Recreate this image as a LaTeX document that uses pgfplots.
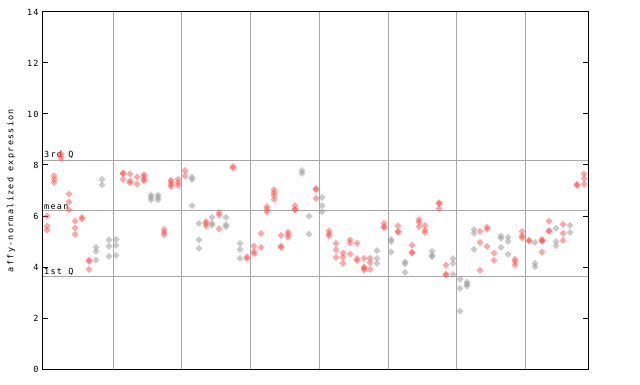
\documentclass[border=0pt]{standalone}
\usepackage{pgfplots}
\pgfplotsset{compat=1.18}
\usepackage{fontspec}
\newfontfamily\pix{DejaVu Sans Mono}[LetterSpace=15]
\definecolor{ptred}{RGB}{255,80,80}
\definecolor{ptgray}{RGB}{150,150,150}
\definecolor{gridgray}{RGB}{168,168,168}
\begin{document}
\begin{tikzpicture}[x=1bp,y=1bp]
\path[use as bounding box] (-43,-15) rectangle (597,369);
\begin{axis}[
  at={(0,0)}, anchor=south west,
  scale only axis, width=545bp, height=357bp,
  xmin=43, xmax=588, ymin=0, ymax=14,
  ytick={0,2,4,6,8,10,12,14},
  xtick={113,181,250,319,388,456,525},
  xticklabels={},
  xmajorgrids,
  grid style={color=gridgray, line width=1bp},
  xtick style={draw=none},
  tick align=inside,
  major tick length=5bp,
  ytick style={black, line width=1bp},
  axis line style={black, line width=1bp},
  /pgf/number format/assume math mode=true,
  yticklabel style={font=\pix\fontsize{8.5}{9}\selectfont, xshift=-1bp},
  ylabel={affy-normalized expression},
  ylabel style={font=\pix\fontsize{8.5}{9}\selectfont, at={(axis description cs:0,0.5)}, anchor=center, yshift=32bp},
]
\addplot[forget plot, gridgray, line width=1bp, no marks, sharp plot] coordinates {(43,8.18) (588,8.18)};
\addplot[forget plot, gridgray, line width=1bp, no marks, sharp plot] coordinates {(43,6.2) (588,6.2)};
\addplot[forget plot, gridgray, line width=1bp, no marks, sharp plot] coordinates {(43,3.61) (588,3.61)};
% red series
\addplot[ptred, only marks, mark=diamond*, mark size=3.5bp, mark options={xscale=1.333, draw opacity=0, fill=ptred, fill opacity=0.5}] coordinates {
(47,6.0) (47,5.6) (47,5.45)
(54,7.57) (54,7.44) (54,7.31)
(61,8.45) (61,8.35) (61,8.25)
(69,6.86) (69,6.55) (69,6.24)
(75,5.8) (75,5.52) (75,5.28)
(82,5.95) (82,5.88)
(89,4.27) (89,4.22) (89,3.91)
(123,7.69) (123,7.65) (123,7.44)
(130,7.65) (130,7.38) (130,7.3)
(137,7.52) (137,7.25)
(144,7.62) (144,7.54) (144,7.44) (144,7.38)
(164,5.48) (164,5.37) (164,5.27)
(171,7.41) (171,7.33) (171,7.23) (171,7.15)
(178,7.44) (178,7.31) (178,7.2)
(185,7.78) (185,7.57)
(206,5.78) (206,5.71) (206,5.61)
(219,6.13) (219,6.03) (219,5.5)
(233,7.95) (233,7.88)
(247,4.4) (247,4.33)
(254,4.82) (254,4.6) (254,4.52)
(261,5.32) (261,4.77)
(267,6.37) (267,6.26) (267,6.16)
(274,7.02) (274,6.92) (274,6.81) (274,6.65)
(281,5.24) (281,4.82) (281,4.77)
(288,5.37) (288,5.27) (288,5.16)
(295,6.41) (295,6.26) (295,6.24)
(316,7.07) (316,7.03) (316,6.69)
(329,5.42) (329,5.3) (329,5.22)
(336,4.93) (336,4.67) (336,4.38)
(343,4.54) (343,4.38) (343,4.14)
(350,5.06) (350,4.95) (350,4.51)
(357,4.93) (357,4.33) (357,4.25)
(364,4.34) (364,4.0) (364,3.96) (364,3.88)
(370,4.34) (370,4.17) (370,3.91)
(384,5.71) (384,5.58) (384,5.54)
(398,5.61) (398,5.4) (398,5.37)
(412,4.86) (412,4.58) (412,4.54)
(419,5.86) (419,5.76) (419,5.58)
(425,5.63) (425,5.45) (425,5.35)
(439,6.52) (439,6.48) (439,6.29)
(446,4.07) (446,3.72) (446,3.68)
(480,5.4) (480,4.97) (480,3.87)
(487,5.56) (487,5.48) (487,4.81)
(494,4.54) (494,4.26)
(515,4.3) (515,4.21) (515,4.07)
(522,5.4) (522,5.22) (522,5.14)
(529,5.05) (529,5.01)
(542,5.08) (542,5.03) (542,5.01) (542,4.58)
(549,5.8) (549,5.43) (549,5.4)
(563,5.67) (563,5.32) (563,5.04)
(577,7.24) (577,7.2)
(584,7.65) (584,7.47) (584,7.25)
};
% gray series
\addplot[ptgray, only marks, mark=diamond*, mark size=3.5bp, mark options={xscale=1.333, draw opacity=0, fill=ptgray, fill opacity=0.5}] coordinates {
(96,4.77) (96,4.61) (96,4.27)
(102,7.44) (102,7.22)
(109,5.06) (109,4.81) (109,4.42)
(116,5.08) (116,4.85) (116,4.46)
(151,6.82) (151,6.73) (151,6.63)
(158,6.82) (158,6.73) (158,6.63)
(192,7.52) (192,7.44) (192,6.41)
(199,5.71) (199,5.06) (199,4.73)
(212,5.95) (212,5.71) (212,5.64)
(226,5.95) (226,5.66) (226,5.58)
(240,4.93) (240,4.69) (240,4.34)
(302,7.78) (302,7.67)
(309,5.99) (309,5.29)
(322,6.73) (322,6.41) (322,6.16)
(377,4.64) (377,4.34) (377,4.14)
(391,5.08) (391,5.0) (391,4.58)
(405,4.2) (405,4.12) (405,3.79)
(432,4.61) (432,4.46) (432,4.41)
(453,4.33) (453,4.14) (453,3.71)
(460,3.52) (460,3.16) (460,2.27)
(467,3.41) (467,3.33) (467,3.25)
(474,5.47) (474,5.32) (474,4.69)
(501,5.22) (501,5.12) (501,4.77)
(508,5.16) (508,5.0) (508,4.5)
(535,4.97) (535,4.14) (535,4.01)
(556,5.52) (556,5.0) (556,4.84)
(570,5.63) (570,5.36)
};
\node[anchor=south west, inner sep=0pt, font=\pix\fontsize{8.5}{9}\selectfont, xshift=1bp, yshift=1.5bp] at (axis cs:43,8.18) {3rd Q};
\node[anchor=south west, inner sep=0pt, font=\pix\fontsize{8.5}{9}\selectfont, xshift=1bp, yshift=1.5bp] at (axis cs:43,6.2) {mean};
\node[anchor=south west, inner sep=0pt, font=\pix\fontsize{8.5}{9}\selectfont, xshift=1bp, yshift=1.5bp] at (axis cs:43,3.61) {1st Q};
\end{axis}
\end{tikzpicture}
\end{document}
